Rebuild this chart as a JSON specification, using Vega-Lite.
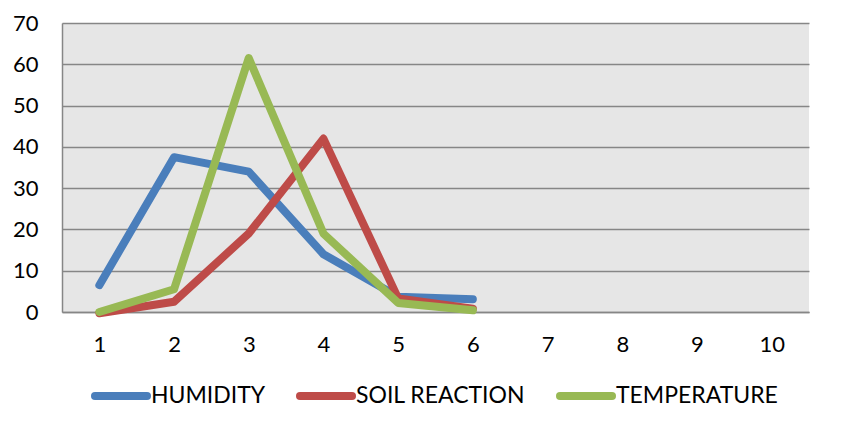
{
  "$schema": "https://vega.github.io/schema/vega-lite/v6.json",
  "autosize": "none",
  "width": 747,
  "height": 289,
  "padding": {"left": 62, "top": 23, "right": 43, "bottom": 134},
  "background": "white",
  "config": {
    "font": "Lato",
    "view": {"fill": "#e6e6e6", "stroke": null}
  },
  "data": {
    "values": [
      {"x": 1, "series": "HUMIDITY", "value": 6.5},
      {"x": 2, "series": "HUMIDITY", "value": 37.5},
      {"x": 3, "series": "HUMIDITY", "value": 34},
      {"x": 4, "series": "HUMIDITY", "value": 14},
      {"x": 5, "series": "HUMIDITY", "value": 3.7},
      {"x": 6, "series": "HUMIDITY", "value": 3.1},
      {"x": 1, "series": "SOIL REACTION", "value": -0.3},
      {"x": 2, "series": "SOIL REACTION", "value": 2.5},
      {"x": 3, "series": "SOIL REACTION", "value": 19},
      {"x": 4, "series": "SOIL REACTION", "value": 42},
      {"x": 5, "series": "SOIL REACTION", "value": 3.3},
      {"x": 6, "series": "SOIL REACTION", "value": 0.8},
      {"x": 1, "series": "TEMPERATURE", "value": 0},
      {"x": 2, "series": "TEMPERATURE", "value": 5.5},
      {"x": 3, "series": "TEMPERATURE", "value": 61.5},
      {"x": 4, "series": "TEMPERATURE", "value": 19},
      {"x": 5, "series": "TEMPERATURE", "value": 2.2},
      {"x": 6, "series": "TEMPERATURE", "value": 0.4}
    ]
  },
  "mark": {"type": "line", "strokeWidth": 8, "strokeCap": "round", "strokeJoin": "round"},
  "encoding": {
    "x": {
      "field": "x",
      "type": "ordinal",
      "scale": {"type": "point", "domain": [1, 2, 3, 4, 5, 6, 7, 8, 9, 10], "padding": 0.5},
      "axis": {
        "title": null,
        "labelAngle": 0,
        "labelFontSize": 22,
        "labelColor": "black",
        "labelPadding": 22,
        "ticks": false,
        "domainColor": "#868686",
        "domainWidth": 1.5,
        "grid": false
      }
    },
    "y": {
      "field": "value",
      "type": "quantitative",
      "scale": {"domain": [0, 70], "nice": false},
      "axis": {
        "title": null,
        "values": [0, 10, 20, 30, 40, 50, 60, 70],
        "labelFontSize": 22,
        "labelColor": "black",
        "labelPadding": 24,
        "ticks": false,
        "domainColor": "#868686",
        "domainWidth": 1.5,
        "gridColor": "#868686",
        "gridWidth": 1.5
      }
    },
    "color": {
      "field": "series",
      "type": "nominal",
      "scale": {"domain": ["HUMIDITY", "SOIL REACTION", "TEMPERATURE"], "range": ["#4a7ebb", "#be4b48", "#98b954"]},
      "legend": {
        "title": null,
        "orient": "none",
        "direction": "horizontal",
        "legendX": 29,
        "legendY": 343,
        "symbolType": "stroke",
        "symbolSize": 2704,
        "symbolStrokeWidth": 8,
        "labelFontSize": 23,
        "labelColor": "black",
        "labelOffset": 0,
        "columnPadding": 18,
        "labelLimit": 300,
        "encode": {"symbols": {"update": {"strokeCap": {"value": "round"}}}}
      }
    }
  }
}
